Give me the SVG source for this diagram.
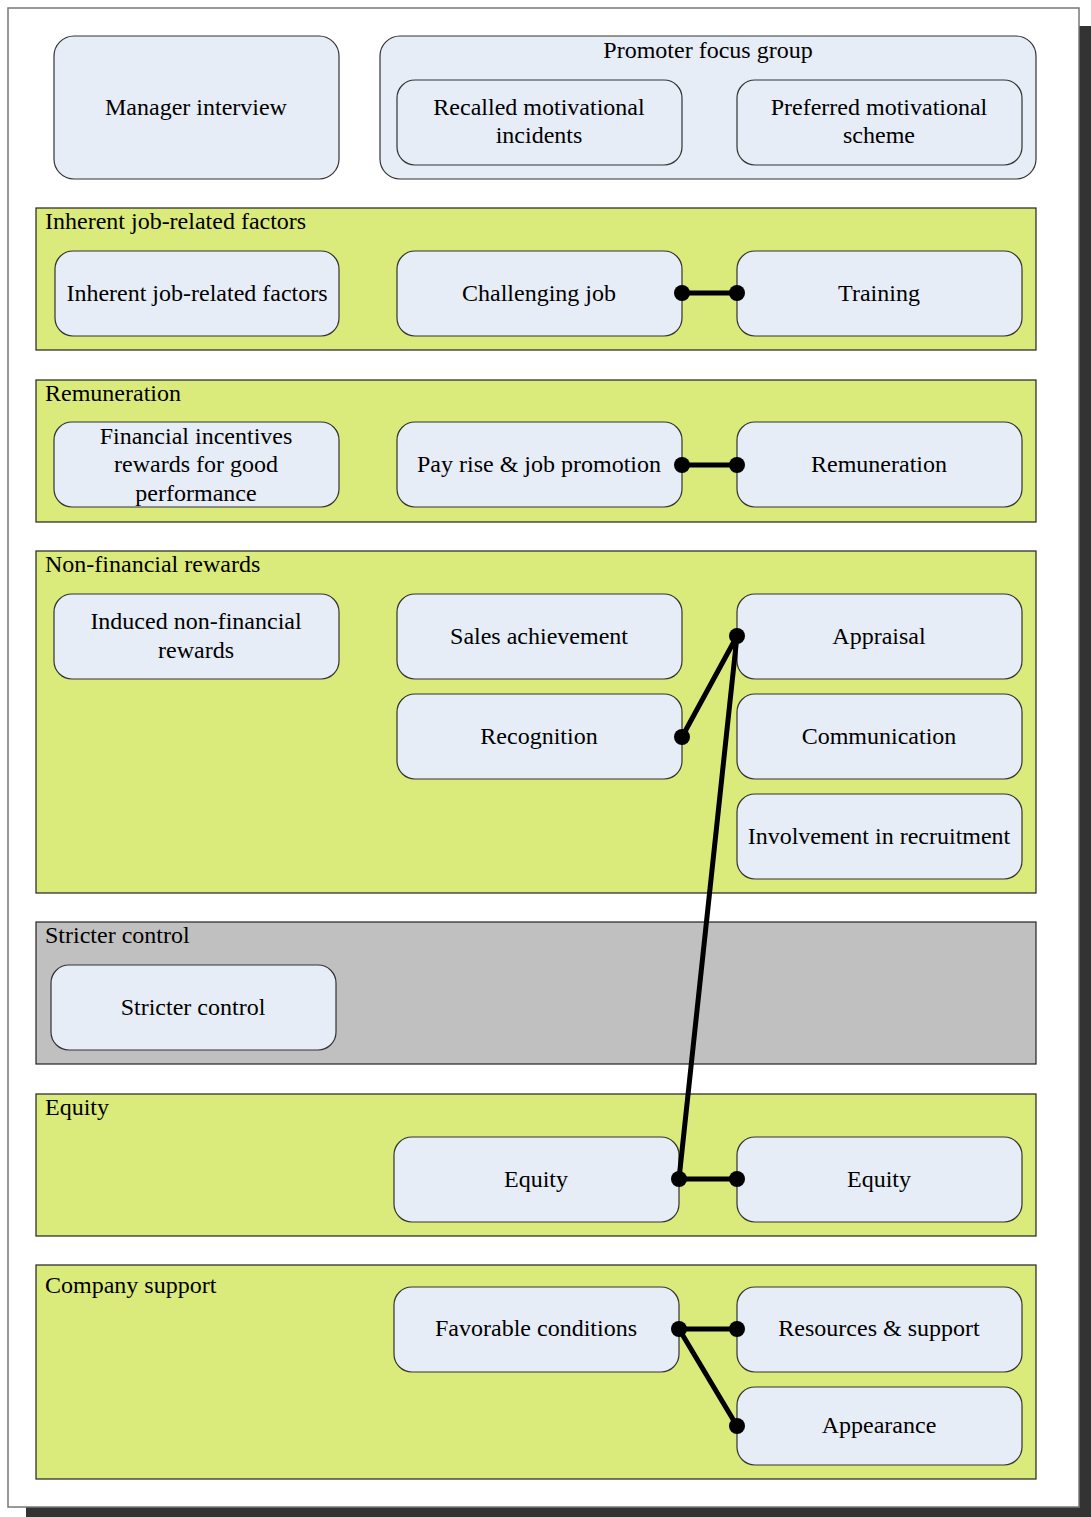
<svg xmlns="http://www.w3.org/2000/svg" width="1091" height="1517" viewBox="0 0 1091 1517">
<style>
.page{fill:#fff;stroke:#777;stroke-width:1.5}
.sec{fill:#dbeb7b;stroke:#222;stroke-width:1.2}
.gray{fill:#c0c0c0;stroke:#222;stroke-width:1.2}
.node{fill:#e6edf7;stroke:#333;stroke-width:1.2}
text{font-family:"Liberation Serif","Times New Roman",serif;font-size:24px;fill:#000}
.c{text-anchor:middle}
.edge{stroke:#000;stroke-width:5;fill:none}
.dot{fill:#000}
</style>
<rect x="26" y="26" width="1065" height="1491" fill="#333"/>
<rect class="page" x="8" y="8" width="1071" height="1499"/>
<g id="manager"><rect class="node" x="54" y="36" width="285" height="143" rx="20"/><text class="c" x="196" y="115">Manager interview</text></g>
<g id="promoter"><rect class="node" x="380" y="36" width="656" height="143" rx="20"/><text class="c" x="708" y="58">Promoter focus group</text>
<g id="recalled"><rect class="node" x="397" y="80" width="285" height="85" rx="18"/><text class="c" x="539" y="115">Recalled motivational</text><text class="c" x="539" y="143">incidents</text></g>
<g id="preferred"><rect class="node" x="737" y="80" width="285" height="85" rx="18"/><text class="c" x="879" y="115">Preferred motivational</text><text class="c" x="879" y="143">scheme</text></g></g>
<g id="sec-inherent"><rect class="sec" x="36" y="208" width="1000" height="142"/><text x="45" y="229">Inherent job-related factors</text></g>
<g id="sec-remun"><rect class="sec" x="36" y="380" width="1000" height="142"/><text x="45" y="401">Remuneration</text></g>
<g id="sec-nonfin"><rect class="sec" x="36" y="551" width="1000" height="342"/><text x="45" y="572">Non-financial rewards</text></g>
<g id="sec-stricter"><rect class="gray" x="36" y="922" width="1000" height="142"/><text x="45" y="943">Stricter control</text></g>
<g id="sec-equity"><rect class="sec" x="36" y="1094" width="1000" height="142"/><text x="45" y="1115">Equity</text></g>
<g id="sec-support"><rect class="sec" x="36" y="1265" width="1000" height="214"/><text x="45" y="1293">Company support</text></g>
<g id="n-inherent"><rect class="node" x="55" y="251" width="284" height="85" rx="18"/><text class="c" x="197" y="301">Inherent job-related factors</text></g>
<g id="n-challenging"><rect class="node" x="397" y="251" width="285" height="85" rx="18"/><text class="c" x="539" y="301">Challenging job</text></g>
<g id="n-training"><rect class="node" x="737" y="251" width="285" height="85" rx="18"/><text class="c" x="879" y="301">Training</text></g>
<g id="n-financial"><rect class="node" x="54" y="422" width="285" height="85" rx="18"/><text class="c" x="196" y="444">Financial incentives</text><text class="c" x="196" y="472">rewards for good</text><text class="c" x="196" y="501">performance</text></g>
<g id="n-payrise"><rect class="node" x="397" y="422" width="285" height="85" rx="18"/><text class="c" x="539" y="472">Pay rise &amp; job promotion</text></g>
<g id="n-remun"><rect class="node" x="737" y="422" width="285" height="85" rx="18"/><text class="c" x="879" y="472">Remuneration</text></g>
<g id="n-induced"><rect class="node" x="54" y="594" width="285" height="85" rx="18"/><text class="c" x="196" y="629">Induced non-financial</text><text class="c" x="196" y="658">rewards</text></g>
<g id="n-sales"><rect class="node" x="397" y="594" width="285" height="85" rx="18"/><text class="c" x="539" y="644">Sales achievement</text></g>
<g id="n-appraisal"><rect class="node" x="737" y="594" width="285" height="85" rx="18"/><text class="c" x="879" y="644">Appraisal</text></g>
<g id="n-recognition"><rect class="node" x="397" y="694" width="285" height="85" rx="18"/><text class="c" x="539" y="744">Recognition</text></g>
<g id="n-communication"><rect class="node" x="737" y="694" width="285" height="85" rx="18"/><text class="c" x="879" y="744">Communication</text></g>
<g id="n-involvement"><rect class="node" x="737" y="794" width="285" height="85" rx="18"/><text class="c" x="879" y="844">Involvement in recruitment</text></g>
<g id="n-stricter"><rect class="node" x="51" y="965" width="285" height="85" rx="18"/><text class="c" x="193" y="1015">Stricter control</text></g>
<g id="n-equity1"><rect class="node" x="394" y="1137" width="285" height="85" rx="18"/><text class="c" x="536" y="1187">Equity</text></g>
<g id="n-equity2"><rect class="node" x="737" y="1137" width="285" height="85" rx="18"/><text class="c" x="879" y="1187">Equity</text></g>
<g id="n-favorable"><rect class="node" x="394" y="1287" width="285" height="85" rx="18"/><text class="c" x="536" y="1336">Favorable conditions</text></g>
<g id="n-resources"><rect class="node" x="737" y="1287" width="285" height="85" rx="18"/><text class="c" x="879" y="1336">Resources &amp; support</text></g>
<g id="n-appearance"><rect class="node" x="737" y="1387" width="285" height="78" rx="18"/><text class="c" x="879" y="1433">Appearance</text></g>
<g id="connectors">
<path class="edge" d="M682 293H737"/><circle class="dot" cx="682" cy="293" r="8"/><circle class="dot" cx="737" cy="293" r="8"/>
<path class="edge" d="M682 465H737"/><circle class="dot" cx="682" cy="465" r="8"/><circle class="dot" cx="737" cy="465" r="8"/>
<path class="edge" d="M682 737L737 636L679 1179H737"/><circle class="dot" cx="682" cy="737" r="8"/><circle class="dot" cx="737" cy="636" r="8"/><circle class="dot" cx="679" cy="1179" r="8"/><circle class="dot" cx="737" cy="1179" r="8"/>
<path class="edge" d="M737 1329H679L737 1426"/><circle class="dot" cx="679" cy="1329" r="8"/><circle class="dot" cx="737" cy="1329" r="8"/><circle class="dot" cx="737" cy="1426" r="8"/>
</g>
</svg>
